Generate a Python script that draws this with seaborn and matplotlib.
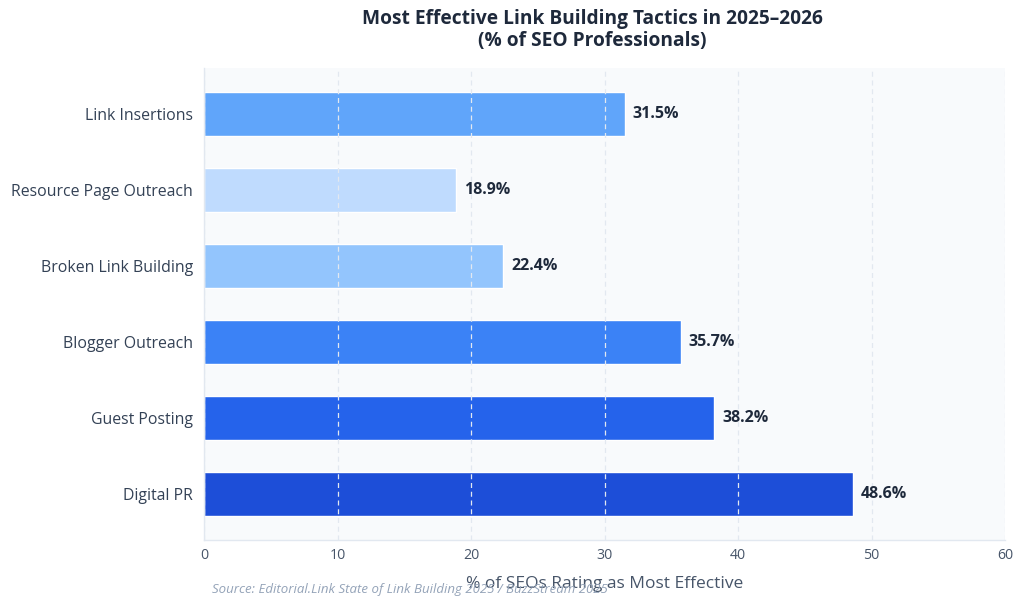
import matplotlib
matplotlib.use("Agg")
import matplotlib.pyplot as plt
import seaborn as sns
import pandas as pd

tactics = ["Link Insertions", "Resource Page Outreach", "Broken Link Building",
           "Blogger Outreach", "Guest Posting", "Digital PR"]
values = [31.5, 18.9, 22.4, 35.7, 38.2, 48.6]
colors = ["#60a5fa", "#bfdbfe", "#93c5fd", "#3b82f6", "#2563eb", "#1d4ed8"]
x_ticks = [0, 10, 20, 30, 40, 50, 60]

sns.set_theme(style="white")
plt.rcParams['font.family'] = ['Open Sans', 'DejaVu Sans']

df = pd.DataFrame({"tactic": tactics, "value": values})

fig = plt.figure(figsize=(10.24, 6.08), dpi=100)
ax = fig.add_axes([204/1024, 1-540/608, (1005-204)/1024, (540-68)/608])
ax.set_facecolor("#f8fafc")

sns.barplot(data=df, y="tactic", x="value", hue="tactic", palette=colors,
            legend=False, orient="h", width=0.58, ax=ax, saturation=1,
            edgecolor="white", linewidth=1)

ax.set_xlim(0, 60)
ax.set_ylim(5.6, -0.6)
ax.set_xticks(x_ticks)
ax.set_xticklabels([str(t) for t in x_ticks])
ax.grid(axis="x", color="#e2e8f0", linestyle=(0, (4, 3)), linewidth=0.9, zorder=3)
ax.set_axisbelow(False)
for c in ax.containers:
    for bar in c:
        bar.set_zorder(2)

for i, v in enumerate(values):
    ax.text(v + 0.6, i, f"{v}%", va="center", ha="left", fontsize=11.5,
            fontweight="bold", color="#1e293b", zorder=4)

for s in ["top", "right"]:
    ax.spines[s].set_visible(False)
for s in ["left", "bottom"]:
    ax.spines[s].set_color("#e2e8f0")
    ax.spines[s].set_linewidth(1)

ax.tick_params(axis="y", length=4, color="#475569", labelsize=11.4, labelcolor="#334155", pad=4)
ax.tick_params(axis="x", length=4, color="#475569", labelsize=10.2, labelcolor="#475569", pad=2)
ax.set_ylabel("")
ax.set_xlabel("% of SEOs Rating as Most Effective", fontsize=12.5, color="#475569", labelpad=9)

fig.text(592/1024, 1-30/608, "Most Effective Link Building Tactics in 2025–2026\n(% of SEO Professionals)",
         ha="center", va="center", fontsize=13.8, fontweight="bold", color="#1e293b",
         linespacing=1.15)

fig.text(212/1024, 1-590/608, "Source: Editorial.Link State of Link Building 2025 / BuzzStream 2025",
         ha="left", va="center", fontsize=9.5, style="italic", color="#94a3b8")

fig.savefig("out.png", dpi=100, facecolor="white")
